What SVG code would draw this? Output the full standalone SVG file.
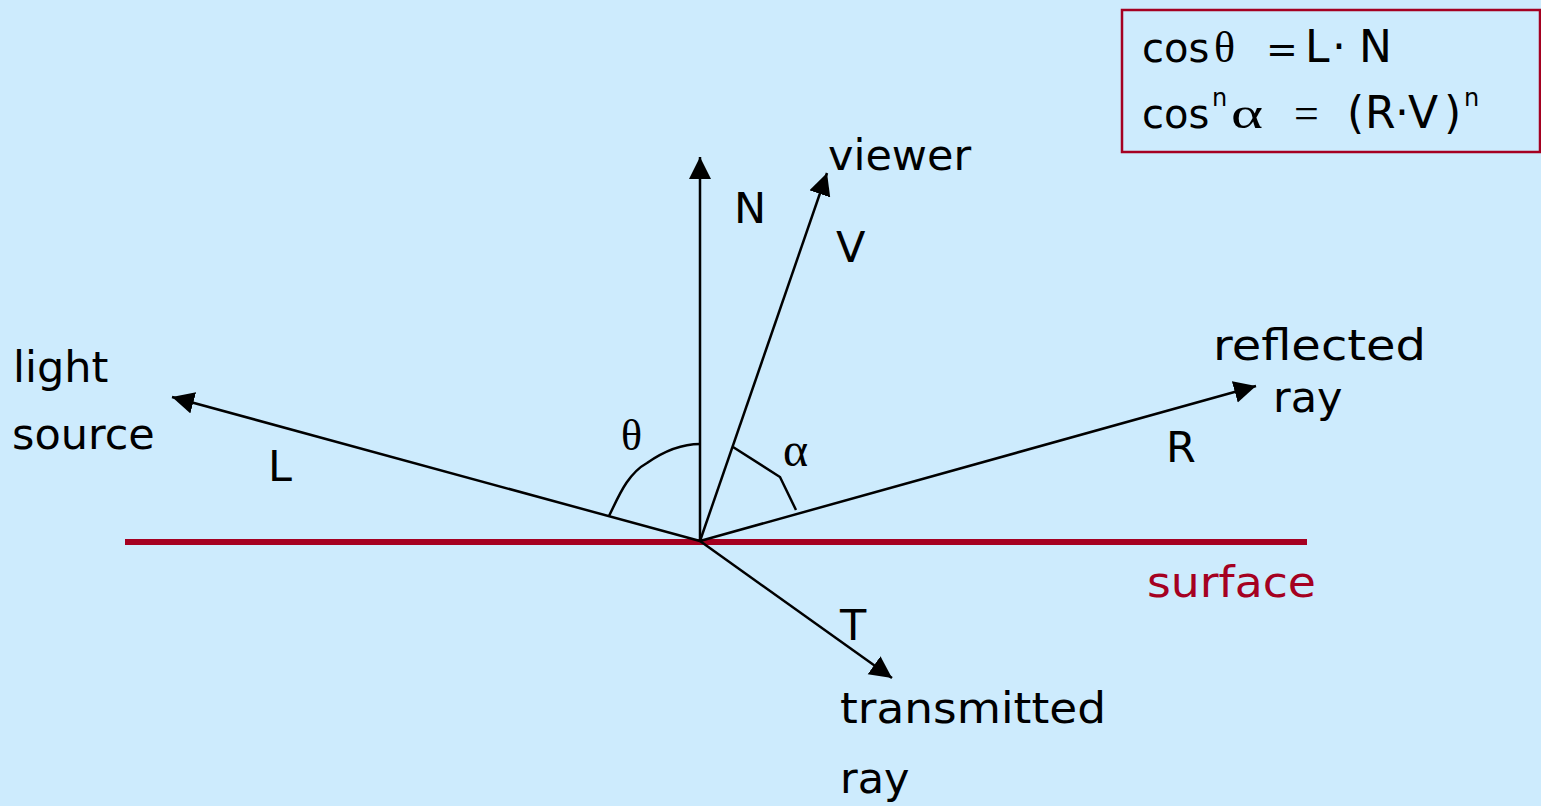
<svg xmlns="http://www.w3.org/2000/svg" width="1541" height="806" viewBox="0 0 1541 806">
<style>
.t{font-family:"DejaVu Sans","Liberation Sans",sans-serif;font-size:43px;fill:#000}
.b{font-family:"DejaVu Sans","Liberation Sans",sans-serif;font-size:44px;fill:#000}
.c{font-family:"DejaVu Sans","Liberation Sans",sans-serif;font-size:40px;fill:#000}
.g{font-family:"Liberation Serif","DejaVu Serif",serif;font-size:44px;fill:#000}
.sup{font-family:"DejaVu Sans","Liberation Sans",sans-serif;font-size:24px;fill:#000}
.ln{stroke:#000;stroke-width:2.5;fill:none}
.red{fill:#a50021}
</style>
<defs>
<marker id="ah" markerUnits="userSpaceOnUse" markerWidth="24" markerHeight="24" refX="22" refY="11" orient="auto" viewBox="0 0 24 24">
<path d="M0,0 L22,11 L0,22 z" fill="#000"/>
</marker>
</defs>
<rect width="1541" height="806" fill="#cdebfd"/>
<g id="formula-box">
<rect x="1122" y="10" width="418" height="142" fill="none" stroke="#a50021" stroke-width="2.5"/>
<text class="c" x="1142" y="62">cos</text>
<text class="g" x="1214" y="62">θ</text>
<text class="b" x="1266" y="62" style="font-size:38px">=</text>
<text class="b" x="1305" y="62">L</text>
<text class="b" x="1332" y="62">·</text>
<text class="b" x="1359" y="62">N</text>
<text class="c" x="1142" y="128">cos</text>
<text class="sup" x="1212" y="106">n</text>
<text class="g" x="1231" y="128" textLength="32" lengthAdjust="spacingAndGlyphs">α</text>
<text class="g" x="1294" y="128">=</text>
<text class="b" x="1347" y="128">(</text>
<text class="b" x="1365" y="128">R</text>
<text class="b" x="1395" y="128">·</text>
<text class="b" x="1408" y="128">V</text>
<text class="b" x="1444" y="128">)</text>
<text class="sup" x="1464" y="106">n</text>
</g>
<g id="surface">
<line x1="125" y1="542" x2="1307" y2="542" stroke="#a50021" stroke-width="6"/>
<text class="t red" x="1147" y="597" textLength="169" lengthAdjust="spacingAndGlyphs">surface</text>
</g>
<g id="connectors">
<line class="ln" x1="700" y1="541" x2="700" y2="157" marker-end="url(#ah)"/>
<line class="ln" x1="700" y1="541" x2="827" y2="173" marker-end="url(#ah)"/>
<line class="ln" x1="700" y1="541" x2="172" y2="397" marker-end="url(#ah)"/>
<line class="ln" x1="700" y1="541" x2="1256" y2="386" marker-end="url(#ah)"/>
<line class="ln" x1="700" y1="541" x2="892" y2="678" marker-end="url(#ah)"/>
<path class="ln" d="M609,516 C618,498 627,474 647,463 C667,449 684,444 700,444"/>
<path class="ln" d="M733,447 L780,477 L796,510"/>
</g>
<g id="normal"><text class="t" x="734" y="223">N</text></g>
<g id="viewer"><text class="t" x="828" y="170">viewer</text><text class="t" x="836" y="262">V</text></g>
<g id="light-source"><text class="t" x="13" y="382">light</text><text class="t" x="12" y="449">source</text><text class="t" x="268" y="481">L</text></g>
<g id="reflected"><text class="t" x="1213" y="360" textLength="213" lengthAdjust="spacingAndGlyphs">reflected</text><text class="t" x="1273" y="412">ray</text><text class="t" x="1166" y="462">R</text></g>
<g id="transmitted"><text class="t" x="840" y="640">T</text><text class="t" x="840" y="723" textLength="266" lengthAdjust="spacingAndGlyphs">transmitted</text><text class="t" x="840" y="793">ray</text></g>
<g id="angles"><text class="g" x="621" y="450">θ</text><text class="g" x="783" y="466" style="font-size:48px">α</text></g>
</svg>
